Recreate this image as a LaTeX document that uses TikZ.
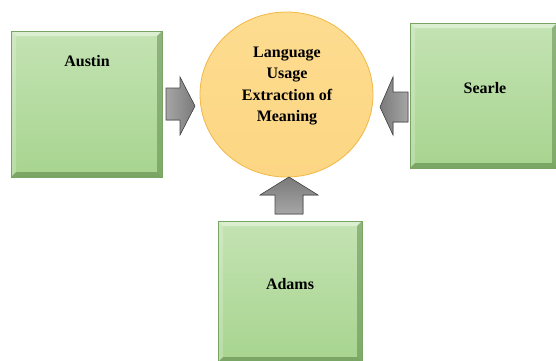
\documentclass[tikz,border=0pt]{standalone}
\usepackage{fontspec}
\setmainfont{Liberation Serif}[BoldFont={Liberation Serif Bold}]
\usetikzlibrary{shapes.geometric}
\definecolor{boxtop}{HTML}{C4E3B3}
\definecolor{boxbot}{HTML}{A7D48F}
\definecolor{boxedge}{HTML}{78A563}
\definecolor{bevdark}{HTML}{4F7A3C}
\definecolor{circfill}{HTML}{FCD683}
\definecolor{circtop}{HTML}{FDDC90}
\definecolor{circedge}{HTML}{F2B845}
\definecolor{arrlight}{HTML}{A6A6A6}
\definecolor{arrdark}{HTML}{7A7A7A}
\definecolor{arredge}{HTML}{4A4A4A}
\begin{document}
\begin{tikzpicture}[x=1pt,y=-1pt,
  gbox/.style={rectangle, draw=boxedge, line width=0.8pt, top color=boxtop, bottom color=boxbot, inner sep=0pt,
    path picture={
      \fill[white,opacity=.4] (path picture bounding box.north west) -- (path picture bounding box.north east)
        -- ([shift={(-5pt,-5pt)}]path picture bounding box.north east) -- ([shift={(5pt,-5pt)}]path picture bounding box.north west) -- cycle;
      \fill[white,opacity=.2] (path picture bounding box.north west) -- (path picture bounding box.south west)
        -- ([shift={(5pt,5pt)}]path picture bounding box.south west) -- ([shift={(5pt,-5pt)}]path picture bounding box.north west) -- cycle;
      \fill[bevdark,opacity=.45] (path picture bounding box.north east) -- (path picture bounding box.south east)
        -- ([shift={(-5pt,5pt)}]path picture bounding box.south east) -- ([shift={(-5pt,-5pt)}]path picture bounding box.north east) -- cycle;
      \fill[bevdark,opacity=.5] (path picture bounding box.south west) -- (path picture bounding box.south east)
        -- ([shift={(-5pt,5pt)}]path picture bounding box.south east) -- ([shift={(5pt,5pt)}]path picture bounding box.south west) -- cycle;
    }},
  lbl/.style={font=\fontsize{16}{21.5}\selectfont\bfseries, align=center, inner sep=0pt, text=black},
  blockarrow/.style={draw=arredge, line width=0.6pt, line join=miter},
]
\useasboundingbox (0,0) rectangle (556,360);

% boxes
\node[gbox, minimum width=151pt, minimum height=146pt] (austin) at (86.5,104) {};
\node[gbox, minimum width=147pt, minimum height=145pt] (searle) at (483.5,95.5) {};
\node[gbox, minimum width=144pt, minimum height=141pt] (adams) at (290,291.5) {};

% circle
\node[ellipse, draw=circedge, line width=0.8pt, top color=circtop, bottom color=circfill,
      minimum width=173pt, minimum height=165pt, inner sep=0pt] (meaning) at (286.5,94.5) {};

% labels
\node[lbl] (tAustin) at (87,61) {Austin};
\node[lbl] (tSearle) at (485,88) {Searle};
\node[lbl] (tAdams) at (290,284) {Adams};
\node[lbl] (tMeaning) at (287,86) {Language\\Usage\\Extraction of\\Meaning};

% block arrows
\coordinate (la) at (166,88);
\coordinate (ra) at (408,92);
\coordinate (ua) at (275,214);
\fill[left color=arrlight, right color=arrdark]
  (la) -- (180,88) -- (180,77) -- (195,106) -- (180,135) -- (180,120) -- (166,120) -- cycle;
\draw[blockarrow]
  (la) -- (180,88) -- (180,77) -- (195,106) -- (180,135) -- (180,120) -- (166,120) -- cycle;
\fill[left color=arrdark, right color=arrlight]
  (ra) -- (393,92) -- (393,77) -- (380,107) -- (393,135) -- (393,122) -- (408,122) -- cycle;
\draw[blockarrow]
  (ra) -- (393,92) -- (393,77) -- (380,107) -- (393,135) -- (393,122) -- (408,122) -- cycle;
\fill[top color=arrdark, bottom color=arrlight]
  (ua) -- (275,195) -- (260,195) -- (289,177) -- (318,195) -- (303,195) -- (303,214) -- cycle;
\draw[blockarrow]
  (ua) -- (275,195) -- (260,195) -- (289,177) -- (318,195) -- (303,195) -- (303,214) -- cycle;
\end{tikzpicture}
\end{document}
